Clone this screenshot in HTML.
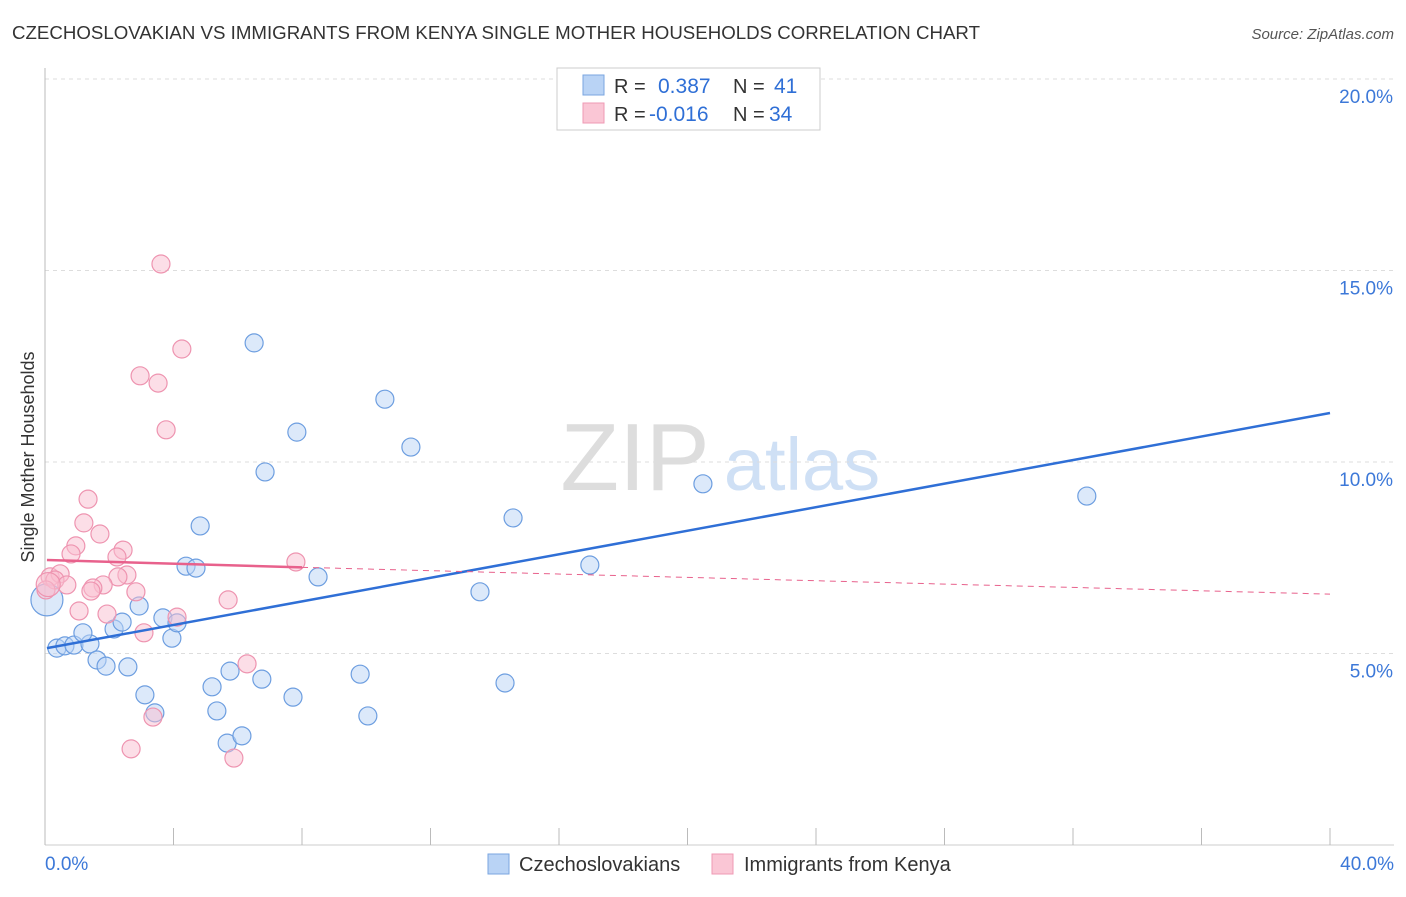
<!DOCTYPE html>
<html><head><meta charset="utf-8"><style>
body{margin:0;background:#fff;font-family:"Liberation Sans",sans-serif}
svg text{font-family:"Liberation Sans",sans-serif}
</style></head><body>
<svg id="c" width="1406" height="892" xmlns="http://www.w3.org/2000/svg">
<text x="12" y="39" font-size="18" fill="#333" textLength="968" lengthAdjust="spacingAndGlyphs">CZECHOSLOVAKIAN VS IMMIGRANTS FROM KENYA SINGLE MOTHER HOUSEHOLDS CORRELATION CHART</text>
<text x="1394" y="39" font-size="15" fill="#555" font-style="italic" text-anchor="end">Source: ZipAtlas.com</text>
<g>
<text x="635" y="490" font-size="96" fill="#ddd" font-family="Liberation Serif" text-anchor="middle">ZIP</text>
<text x="802" y="490" font-size="74" fill="#cfe0f5" text-anchor="middle">atlas</text>
</g>
<g id="grid"></g><g id="axes"></g><g id="marks"></g>
<g>
<rect x="557" y="68" width="263" height="62" fill="#fff" stroke="#ccc"/>
<rect x="583" y="75" width="21" height="20" fill="#b9d3f5" stroke="#7aa6e0"/>
<rect x="583" y="103" width="21" height="20" fill="#fac6d5" stroke="#ef9ab4"/>
<text x="614" y="93" font-size="20" fill="#333">R =</text><text x="658" y="93" font-size="21" fill="#2f6fd6">0.387</text>
<text x="733" y="93" font-size="20" fill="#333">N =</text><text x="774" y="93" font-size="21" fill="#2f6fd6">41</text>
<text x="614" y="121" font-size="20" fill="#333">R =</text><text x="649" y="121" font-size="21" fill="#2f6fd6">-0.016</text>
<text x="733" y="121" font-size="20" fill="#333">N =</text><text x="769" y="121" font-size="21" fill="#2f6fd6">34</text>
</g>
<g>
<rect x="488" y="854" width="21" height="20" fill="#b9d3f5" stroke="#7aa6e0"/>
<text x="519" y="871" font-size="20" fill="#333">Czechoslovakians</text>
<rect x="712" y="854" width="21" height="20" fill="#fac6d5" stroke="#ef9ab4"/>
<text x="744" y="871" font-size="20" fill="#333">Immigrants from Kenya</text>
</g>
<text transform="translate(34,457) rotate(-90)" font-size="18" fill="#333" text-anchor="middle">Single Mother Households</text>
<text x="45" y="870" font-size="19" fill="#3c78d8">0.0%</text>
<text x="1394" y="870" font-size="19" fill="#3c78d8" text-anchor="end">40.0%</text>
</svg>
<script>
const yTicks=[5,10,15,20];
const yTickLabels=["5.0%","10.0%","15.0%","20.0%"];
const blueX=[0.06,0.37,0.62,0.90,1.40,1.18,1.62,1.90,2.15,2.40,2.58,2.93,3.11,3.42,3.67,3.95,4.11,4.39,4.70,4.83,5.20,5.35,5.67,5.76,6.13,6.51,6.75,6.85,7.72,7.84,8.50,9.81,10.05,10.58,11.39,13.54,14.32,14.57,16.96,20.48,32.43];
const blueY=[6.40,5.14,5.20,5.22,5.25,5.54,4.83,4.67,5.64,5.82,4.65,6.24,3.92,3.45,5.93,5.40,5.80,7.28,7.23,8.33,4.13,3.50,2.66,4.54,2.85,13.11,4.33,9.74,3.86,10.78,7.00,4.46,3.37,11.64,10.39,6.61,4.23,8.54,7.31,9.43,9.11];
const pinkX=[3.61,4.26,2.96,3.52,3.77,1.34,1.21,1.71,0.96,2.43,0.81,2.24,7.81,2.55,2.27,0.16,0.47,0.31,0.68,1.81,1.49,1.43,2.83,0.03,1.06,1.93,4.11,5.70,3.08,6.29,3.36,2.68,5.88,0.10];
const pinkY=[15.17,12.95,12.25,12.06,10.84,9.03,8.41,8.12,7.81,7.70,7.60,7.52,7.39,7.05,7.00,7.00,7.08,6.92,6.79,6.79,6.71,6.63,6.61,6.66,6.11,6.03,5.95,6.40,5.54,4.73,3.34,2.51,2.27,6.80];
const blueTrend=[[0.06,5.14],[40,11.28]];
const pinkTrend=[[0.06,7.44],[8,7.25],[40,6.55]];
const NS="http://www.w3.org/2000/svg";
const X0=45,X1=1330,Y0=845,YS=38.3;
const sx=v=>X0+(X1-X0)*v/40, sy=v=>Y0-v*YS;
function mk(t,a,p){const e=document.createElementNS(NS,t);for(const k in a)e.setAttribute(k,a[k]);p.appendChild(e);return e;}
const grid=document.getElementById('grid'),axes=document.getElementById('axes'),marks=document.getElementById('marks');
yTicks.forEach((t,i)=>{
 const l=mk('line',{x1:45,x2:1394,y1:sy(t),y2:sy(t),stroke:'#ddd','stroke-dasharray':'4,4'},grid);
 
 
 const tx=mk('text',{x:1393,y:sy(t)+24,'font-size':19,fill:'#3c78d8','text-anchor':'end'},grid);
 tx.textContent=yTickLabels[i];
 
 
});
mk('line',{x1:45,x2:45,y1:68,y2:845,stroke:'#bbb'},axes);
mk('line',{x1:45,x2:1394,y1:845,y2:845,stroke:'#ccc'},axes);
for(let i=0;i<=10;i++){const t=mk('line',{x1:sx(i*4),x2:sx(i*4),y1:828,y2:845,stroke:'#bbb'},axes);
 
 }
function dots(xs,ys,fill,stroke,name,big){
 xs.forEach((x,i)=>{
  const r=(i===big)?(name==='blue-point'?16:12):9;
  const c=mk('circle',{cx:sx(x),cy:sy(ys[i]),r:r,fill:fill,'fill-opacity':0.5,stroke:stroke,'stroke-width':1.2},marks);
  
  
 });
}
dots(blueX,blueY,'#b9d3f5','#6d9ee0','blue-point',0);
dots(pinkX,pinkY,'#f9bdd0','#ee94b0','pink-point',33);
const bl=mk('line',{x1:sx(blueTrend[0][0]),y1:sy(blueTrend[0][1]),x2:sx(blueTrend[1][0]),y2:sy(blueTrend[1][1]),stroke:'#2f6fd6','stroke-width':2.5},marks);


const pl=mk('line',{x1:sx(pinkTrend[0][0]),y1:sy(pinkTrend[0][1]),x2:sx(pinkTrend[1][0]),y2:sy(pinkTrend[1][1]),stroke:'#e8618c','stroke-width':2.5},marks);


const pd=mk('line',{x1:sx(pinkTrend[1][0]),y1:sy(pinkTrend[1][1]),x2:sx(pinkTrend[2][0]),y2:sy(pinkTrend[2][1]),stroke:'#e8618c','stroke-width':1,'stroke-dasharray':'6,5'},marks);


</script>
</body></html>
